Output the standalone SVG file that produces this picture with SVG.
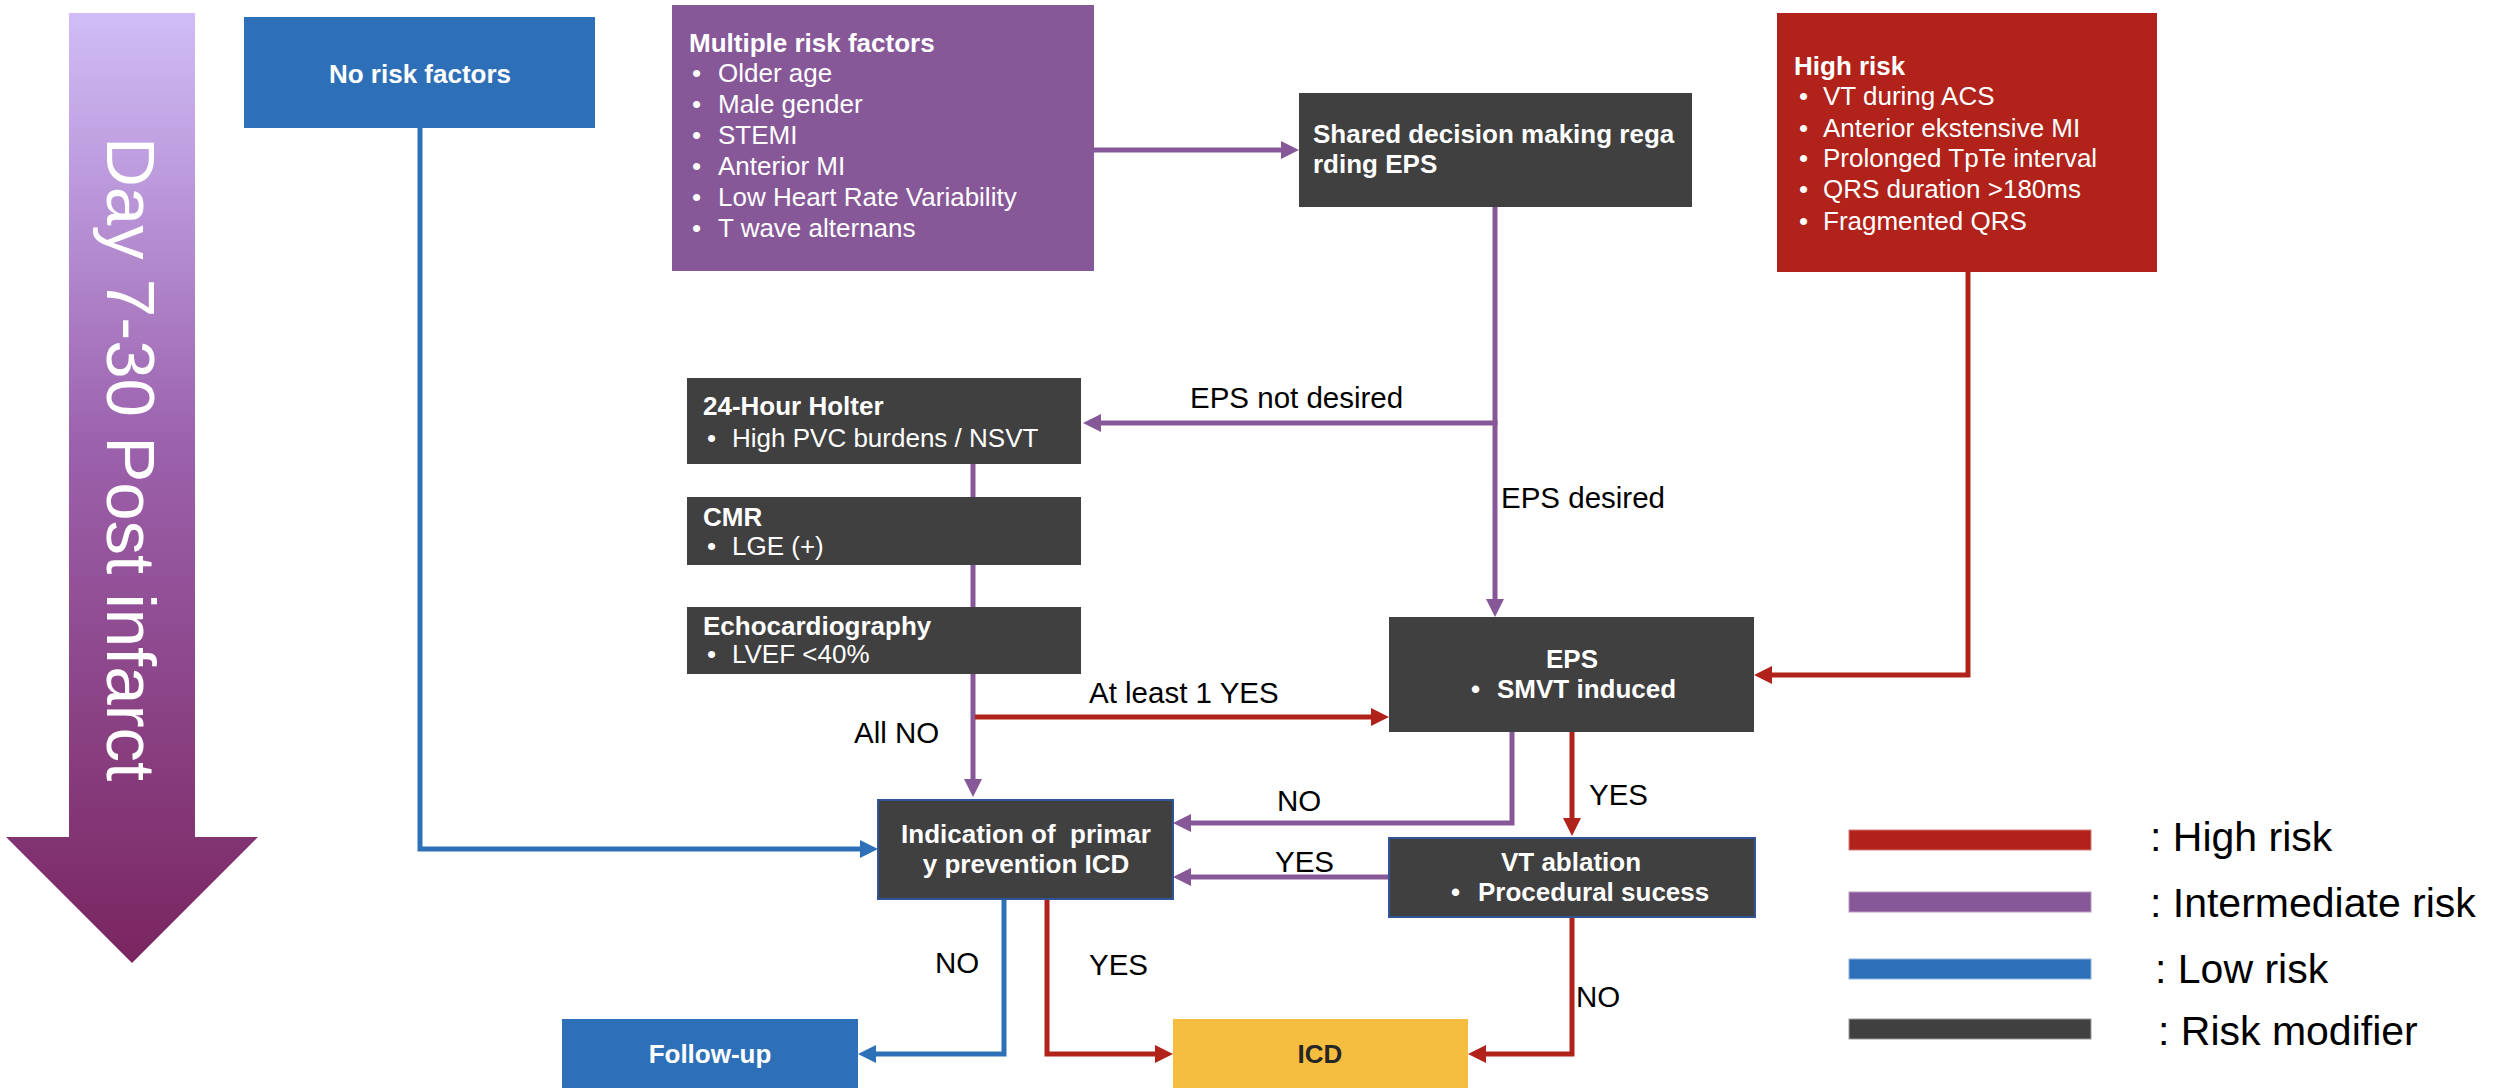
<svg xmlns="http://www.w3.org/2000/svg" width="2493" height="1088" viewBox="0 0 2493 1088">
<defs>
<linearGradient id="gArrow" x1="0" y1="13" x2="0" y2="963" gradientUnits="userSpaceOnUse">
<stop offset="0" stop-color="#d0bdf8"/>
<stop offset="0.45" stop-color="#9c62ad"/>
<stop offset="1" stop-color="#7a2560"/>
</linearGradient>
<marker id="mR" markerUnits="userSpaceOnUse" markerWidth="18" markerHeight="18" refX="2" refY="9" orient="auto"><path d="M0,0 L18,9 L0,18 z" fill="#b0221a"/></marker>
<marker id="mP" markerUnits="userSpaceOnUse" markerWidth="18" markerHeight="18" refX="2" refY="9" orient="auto"><path d="M0,0 L18,9 L0,18 z" fill="#875898"/></marker>
<marker id="mB" markerUnits="userSpaceOnUse" markerWidth="18" markerHeight="18" refX="2" refY="9" orient="auto"><path d="M0,0 L18,9 L0,18 z" fill="#2e70b8"/></marker>
</defs>
<style>
text{font-family:"Liberation Sans",Arial,sans-serif;}
.w{fill:#ffffff;font-size:26px;}
.b{font-weight:bold;}
.lbl{fill:#000000;font-size:29.5px;}
.leg{fill:#000000;font-size:41px;}
.c{stroke-width:5;fill:none;stroke-linejoin:miter;}
.red{stroke:#b0221a;}
.pur{stroke:#875898;}
.blu{stroke:#2e70b8;}
.dark{fill:#404040;}
</style>
<rect width="2493" height="1088" fill="#ffffff"/>

<g id="timeline">
<path d="M69,13 H195 V837 H258 L132,963 L6,837 H69 Z" fill="url(#gArrow)"/>
<text transform="translate(107,137) rotate(90)" fill="#ffffff" font-size="69">Day 7-30 Post infarct</text>
</g>

<g id="connectors">
<path class="c blu" d="M420,128 V849 H862" marker-end="url(#mB)"/>
<path class="c pur" d="M1094,150 H1283" marker-end="url(#mP)"/>
<path class="c pur" d="M1495,207 V601" marker-end="url(#mP)"/>
<path class="c pur" d="M1497.5,423 H1099" marker-end="url(#mP)"/>
<path class="c red" d="M1968,272 V675 H1770" marker-end="url(#mR)"/>
<path class="c pur" d="M973,464 V781" marker-end="url(#mP)"/>
<path class="c red" d="M975,717 H1373" marker-end="url(#mR)"/>
<path class="c pur" d="M1512,732 V823 H1189" marker-end="url(#mP)"/>
<path class="c red" d="M1572,732 V820" marker-end="url(#mR)"/>
<path class="c pur" d="M1389,877 H1189" marker-end="url(#mP)"/>
<path class="c blu" d="M1004,899 V1054 H874" marker-end="url(#mB)"/>
<path class="c red" d="M1047,899 V1054 H1157" marker-end="url(#mR)"/>
<path class="c red" d="M1572,917 V1054 H1484" marker-end="url(#mR)"/>
<text class="lbl" x="1190" y="408">EPS not desired</text>
<text class="lbl" x="1501" y="508">EPS desired</text>
<text class="lbl" x="1089" y="703">At least 1 YES</text>
<text class="lbl" x="854" y="743">All NO</text>
<text class="lbl" x="1277" y="811">NO</text>
<text class="lbl" x="1589" y="805">YES</text>
<text class="lbl" x="1275" y="872">YES</text>
<text class="lbl" x="935" y="973">NO</text>
<text class="lbl" x="1089" y="975">YES</text>
<text class="lbl" x="1576" y="1007">NO</text>
</g>

<g id="no-risk">
<rect x="244" y="17" width="351" height="111" fill="#2e70b8"/>
<text class="w b" x="420" y="83" text-anchor="middle">No risk factors</text>
</g>

<g id="multiple-risk">
<rect x="672" y="5" width="422" height="266" fill="#875898"/>
<text class="w b" x="689" y="52">Multiple risk factors</text>
<text class="w"><tspan x="692" y="82">•</tspan><tspan x="718" y="82">Older age</tspan></text>
<text class="w"><tspan x="692" y="113">•</tspan><tspan x="718" y="113">Male gender</tspan></text>
<text class="w"><tspan x="692" y="144">•</tspan><tspan x="718" y="144">STEMI</tspan></text>
<text class="w"><tspan x="692" y="175">•</tspan><tspan x="718" y="175">Anterior MI</tspan></text>
<text class="w"><tspan x="692" y="206">•</tspan><tspan x="718" y="206">Low Heart Rate Variability</tspan></text>
<text class="w"><tspan x="692" y="237">•</tspan><tspan x="718" y="237">T wave alternans</tspan></text>
</g>

<g id="shared-decision">
<rect class="dark" x="1299" y="93" width="393" height="114"/>
<text class="w b" x="1313" y="143">Shared decision making rega</text>
<text class="w b" x="1313" y="173">rding EPS</text>
</g>

<g id="high-risk">
<rect x="1777" y="13" width="380" height="259" fill="#b0221a"/>
<text class="w b" x="1794" y="75">High risk</text>
<text class="w"><tspan x="1799" y="105">•</tspan><tspan x="1823" y="105">VT during ACS</tspan></text>
<text class="w"><tspan x="1799" y="137">•</tspan><tspan x="1823" y="137">Anterior ekstensive MI</tspan></text>
<text class="w"><tspan x="1799" y="167">•</tspan><tspan x="1823" y="167">Prolonged TpTe interval</tspan></text>
<text class="w"><tspan x="1799" y="198">•</tspan><tspan x="1823" y="198">QRS duration &gt;180ms</tspan></text>
<text class="w"><tspan x="1799" y="230">•</tspan><tspan x="1823" y="230">Fragmented QRS</tspan></text>
</g>

<g id="holter">
<rect class="dark" x="687" y="378" width="394" height="86"/>
<text class="w b" x="703" y="415">24-Hour Holter</text>
<text class="w"><tspan x="707" y="447">•</tspan><tspan x="732" y="447">High PVC burdens / NSVT</tspan></text>
</g>

<g id="cmr">
<rect class="dark" x="687" y="497" width="394" height="68"/>
<text class="w b" x="703" y="526">CMR</text>
<text class="w"><tspan x="707" y="555">•</tspan><tspan x="732" y="555">LGE (+)</tspan></text>
</g>

<g id="echo">
<rect class="dark" x="687" y="607" width="394" height="67"/>
<text class="w b" x="703" y="635">Echocardiography</text>
<text class="w"><tspan x="707" y="663">•</tspan><tspan x="732" y="663">LVEF &lt;40%</tspan></text>
</g>

<g id="eps">
<rect class="dark" x="1389" y="617" width="365" height="115"/>
<text class="w b" x="1572" y="668" text-anchor="middle">EPS</text>
<text class="w b"><tspan x="1471" y="698">•</tspan><tspan x="1497" y="698">SMVT induced</tspan></text>
</g>

<g id="indication">
<rect class="dark" x="878" y="800" width="295" height="99" stroke="#2f5597" stroke-width="2"/>
<text class="w b" x="1026" y="843" text-anchor="middle" style="white-space:pre">Indication of  primar</text>
<text class="w b" x="1026" y="873" text-anchor="middle">y prevention ICD</text>
</g>

<g id="vt-ablation">
<rect class="dark" x="1389" y="838" width="366" height="79" stroke="#2f5597" stroke-width="2"/>
<text class="w b" x="1571" y="871" text-anchor="middle">VT ablation</text>
<text class="w b"><tspan x="1451" y="901">•</tspan><tspan x="1478" y="901">Procedural sucess</tspan></text>
</g>

<g id="follow-up">
<rect x="562" y="1019" width="296" height="69" fill="#2e70b8"/>
<text class="w b" x="710" y="1063" text-anchor="middle">Follow-up</text>
</g>

<g id="icd">
<rect x="1173" y="1019" width="295" height="69" fill="#f5be41"/>
<text class="b" x="1320" y="1063" text-anchor="middle" fill="#262626" font-size="26">ICD</text>
</g>

<g id="legend">
<rect x="1849" y="830" width="242" height="20" fill="#b0221a" stroke="#d77a74" stroke-width="1"/>
<rect x="1849" y="892" width="242" height="20" fill="#875898" stroke="#b89ac4" stroke-width="1"/>
<rect x="1849" y="959" width="242" height="20" fill="#2e70b8" stroke="#8ab4e0" stroke-width="1"/>
<rect x="1849" y="1019" width="242" height="20" fill="#404040" stroke="#9a9a9a" stroke-width="1"/>
<text class="leg" x="2150" y="851">: High risk</text>
<text class="leg" x="2150" y="917">: Intermediate risk</text>
<text class="leg" x="2155" y="983">: Low risk</text>
<text class="leg" x="2158" y="1045">: Risk modifier</text>
</g>
</svg>
